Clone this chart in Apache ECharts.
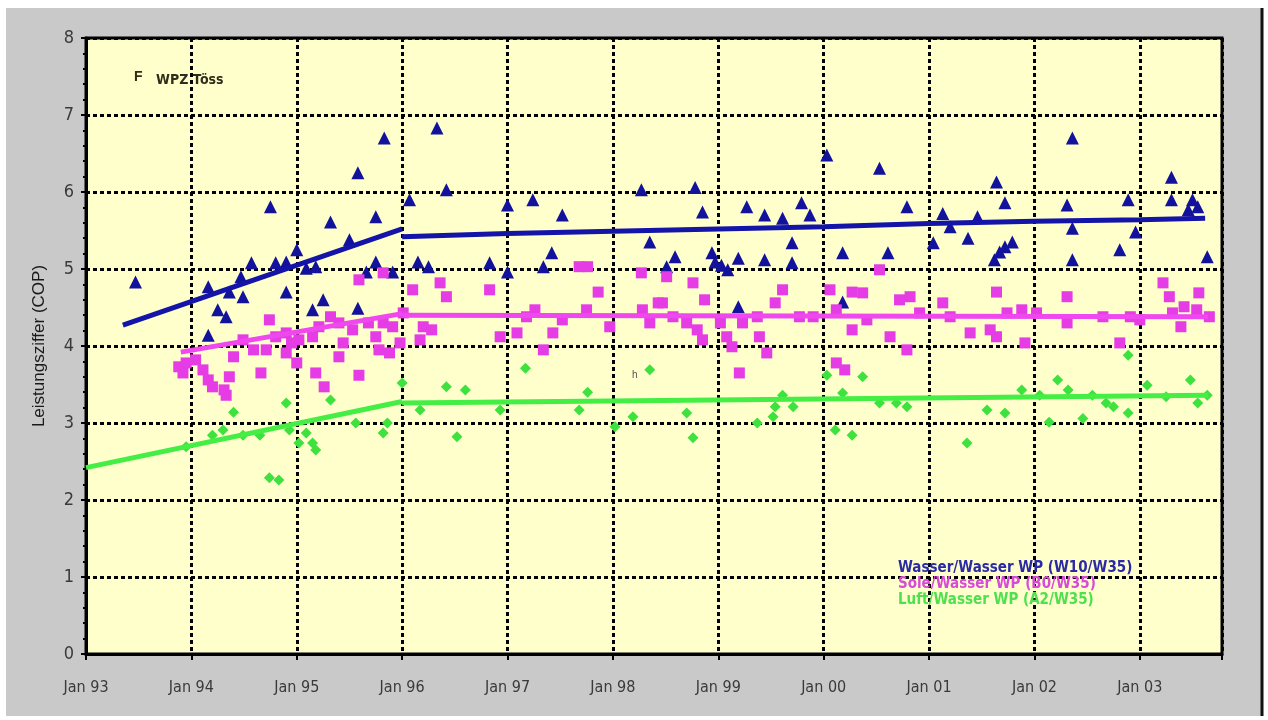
<!DOCTYPE html>
<html>
<head>
<meta charset="utf-8">
<script src="https://cdn.jsdelivr.net/npm/echarts@6/dist/echarts.min.js"></script>
<style>
  html, body { margin: 0; padding: 0; background: #ffffff; }
  #chart { width: 1268px; height: 720px; }
</style>
</head>
<body>
<div id="chart"></div>
<script>
// Monthly COP measurements, [decimal year, COP]
const wasserWasser = [
  [1993.47, 4.83], [1994.16, 4.77], [1994.16, 4.14], [1994.25, 4.47], [1994.33, 4.38],
  [1994.36, 4.70], [1994.47, 4.90], [1994.49, 4.64], [1994.57, 5.08], [1994.75, 5.81],
  [1994.80, 5.08], [1994.90, 5.09], [1994.90, 4.70], [1995.00, 5.25], [1995.09, 5.01],
  [1995.15, 4.47], [1995.18, 5.03], [1995.25, 4.60], [1995.32, 5.61], [1995.50, 5.38],
  [1995.58, 6.25], [1995.58, 4.49], [1995.66, 4.96], [1995.75, 5.68], [1995.75, 5.09],
  [1995.83, 6.70], [1995.91, 4.96], [1996.07, 5.90], [1996.15, 5.09], [1996.25, 5.03],
  [1996.33, 6.83], [1996.42, 6.03], [1996.83, 5.08], [1997.00, 5.83], [1997.00, 4.96],
  [1997.24, 5.90], [1997.34, 5.03], [1997.42, 5.21], [1997.52, 5.70], [1998.27, 6.03],
  [1998.35, 5.35], [1998.51, 5.03], [1998.59, 5.16], [1998.78, 6.06], [1998.85, 5.74],
  [1998.94, 5.21], [1998.97, 5.09], [1999.03, 5.05], [1999.09, 4.99], [1999.19, 5.14],
  [1999.19, 4.51], [1999.27, 5.81], [1999.44, 5.70], [1999.44, 5.12], [1999.61, 5.66],
  [1999.70, 5.34], [1999.70, 5.08], [1999.79, 5.86], [1999.87, 5.70], [2000.03, 6.48],
  [2000.18, 5.21], [2000.18, 4.57], [2000.53, 6.31], [2000.61, 5.21], [2000.79, 5.81],
  [2001.04, 5.34], [2001.13, 5.72], [2001.20, 5.55], [2001.37, 5.40], [2001.46, 5.68],
  [2001.62, 5.12], [2001.64, 6.13], [2001.67, 5.22], [2001.72, 5.86], [2001.72, 5.29],
  [2001.79, 5.35], [2002.31, 5.83], [2002.36, 6.70], [2002.36, 5.53], [2002.36, 5.12],
  [2002.81, 5.25], [2002.89, 5.90], [2002.96, 5.48], [2003.30, 6.19], [2003.30, 5.90],
  [2003.46, 5.77], [2003.50, 5.90], [2003.55, 5.81], [2003.64, 5.16]
];

const soleWasser = [
  [1993.88, 3.73], [1993.92, 3.65], [1993.95, 3.78], [1994.04, 3.82], [1994.11, 3.69],
  [1994.16, 3.56], [1994.20, 3.47], [1994.31, 3.43], [1994.33, 3.36], [1994.36, 3.60],
  [1994.40, 3.86], [1994.49, 4.08], [1994.59, 3.95], [1994.66, 3.65], [1994.71, 3.95],
  [1994.74, 4.34], [1994.80, 4.12], [1994.90, 4.17], [1994.90, 3.91], [1994.95, 4.04],
  [1995.00, 3.78], [1995.02, 4.08], [1995.15, 4.12], [1995.18, 3.65], [1995.21, 4.25],
  [1995.26, 3.47], [1995.32, 4.38], [1995.40, 4.30], [1995.40, 3.86], [1995.44, 4.04],
  [1995.53, 4.21], [1995.59, 4.86], [1995.59, 3.62], [1995.68, 4.30], [1995.75, 4.12],
  [1995.78, 3.95], [1995.82, 4.95], [1995.82, 4.30], [1995.88, 3.91], [1995.91, 4.25],
  [1995.98, 4.04], [1996.01, 4.43], [1996.10, 4.73], [1996.17, 4.08], [1996.20, 4.25],
  [1996.28, 4.21], [1996.36, 4.82], [1996.42, 4.64], [1996.83, 4.73], [1996.93, 4.12],
  [1997.09, 4.17], [1997.18, 4.38], [1997.26, 4.47], [1997.34, 3.95], [1997.43, 4.17],
  [1997.52, 4.34], [1997.68, 5.03], [1997.75, 4.47], [1997.76, 5.03], [1997.86, 4.70],
  [1997.97, 4.25], [1998.27, 4.95], [1998.28, 4.47], [1998.35, 4.30], [1998.43, 4.56],
  [1998.47, 4.56], [1998.51, 4.90], [1998.57, 4.38], [1998.70, 4.30], [1998.76, 4.82],
  [1998.80, 4.21], [1998.85, 4.08], [1998.87, 4.60], [1999.02, 4.30], [1999.08, 4.12],
  [1999.13, 3.99], [1999.20, 3.65], [1999.23, 4.30], [1999.37, 4.38], [1999.39, 4.12],
  [1999.46, 3.91], [1999.54, 4.56], [1999.61, 4.73], [1999.77, 4.38], [1999.90, 4.38],
  [2000.06, 4.73], [2000.12, 4.47], [2000.12, 3.78], [2000.20, 3.69], [2000.27, 4.70],
  [2000.27, 4.21], [2000.37, 4.69], [2000.41, 4.34], [2000.53, 4.99], [2000.63, 4.12],
  [2000.72, 4.60], [2000.79, 3.95], [2000.82, 4.64], [2000.91, 4.43], [2001.13, 4.56],
  [2001.20, 4.38], [2001.39, 4.17], [2001.58, 4.21], [2001.64, 4.70], [2001.64, 4.12],
  [2001.74, 4.43], [2001.88, 4.47], [2001.91, 4.04], [2002.02, 4.43], [2002.31, 4.64],
  [2002.31, 4.30], [2002.65, 4.38], [2002.81, 4.04], [2002.91, 4.38], [2003.00, 4.34],
  [2003.22, 4.82], [2003.28, 4.64], [2003.31, 4.43], [2003.39, 4.25], [2003.42, 4.51],
  [2003.54, 4.47], [2003.56, 4.69], [2003.66, 4.38]
];

const luftWasser = [
  [1993.95, 2.69], [1994.20, 2.84], [1994.30, 2.91], [1994.40, 3.14], [1994.49, 2.84],
  [1994.65, 2.84], [1994.74, 2.29], [1994.83, 2.26], [1994.90, 3.26], [1994.93, 2.91],
  [1995.02, 2.74], [1995.09, 2.87], [1995.15, 2.74], [1995.18, 2.65], [1995.32, 3.30],
  [1995.56, 3.00], [1995.82, 2.87], [1995.86, 3.00], [1996.00, 3.52], [1996.17, 3.17],
  [1996.42, 3.47], [1996.52, 2.82], [1996.60, 3.43], [1996.93, 3.17], [1997.17, 3.71],
  [1997.68, 3.17], [1997.76, 3.40], [1998.02, 2.95], [1998.19, 3.08], [1998.35, 3.69],
  [1998.70, 3.13], [1998.76, 2.81], [1999.37, 3.00], [1999.52, 3.08], [1999.54, 3.21],
  [1999.61, 3.36], [1999.71, 3.21], [2000.03, 3.62], [2000.11, 2.91], [2000.18, 3.39],
  [2000.27, 2.84], [2000.37, 3.60], [2000.53, 3.26], [2000.69, 3.26], [2000.79, 3.21],
  [2001.36, 2.74], [2001.55, 3.17], [2001.72, 3.13], [2001.88, 3.43], [2002.05, 3.36],
  [2002.14, 3.01], [2002.22, 3.56], [2002.32, 3.43], [2002.46, 3.06], [2002.55, 3.36],
  [2002.68, 3.26], [2002.75, 3.21], [2002.89, 3.13], [2002.89, 3.88], [2003.07, 3.49],
  [2003.25, 3.34], [2003.48, 3.56], [2003.55, 3.26], [2003.64, 3.36]
];

// Trend lines: start-up phase up to Jan 96, then long-term trend
const trendWasserEarly = [[1993.35, 4.27], [1996.0, 5.52]];
const trendWasserLate = [[1996.0, 5.42], [1997, 5.46], [1998, 5.49], [1999, 5.52], [2000, 5.55],
  [2001, 5.59], [2002, 5.62], [2003, 5.64], [2003.62, 5.66]];
const trendSoleEarly = [[1993.9, 3.92], [1996.0, 4.42]];
const trendSoleLate = [[1996.0, 4.40], [2003.65, 4.38]];
const trendLuftEarly = [[1993.0, 2.42], [1996.0, 3.28]];
const trendLuftLate = [[1996.0, 3.26], [2003.65, 3.36]];

const seriesNames = ['Wasser/Wasser WP (W10/W35)', 'Sole/Wasser WP (B0/W35)', 'Luft/Wasser WP (A2/W35)'];
const yearStart = 1993;
const yearEnd = 2003.78;

const BLUE = '#12129c';
const MAGENTA = '#e63ce6';
const GREEN = '#3ee23e';
const NARROW = "'DejaVu Sans Condensed', 'Liberation Sans Narrow', 'Arial Narrow', sans-serif";

const chart = echarts.init(document.getElementById('chart'));

function trend(data, color) {
  return {
    type: 'line', data: data, showSymbol: false, symbol: 'none', silent: true, z: 5,
    lineStyle: { color: color, width: 5 }
  };
}

chart.setOption({
  backgroundColor: '#ffffff',
  animation: false,
  graphic: [
    { type: 'rect', z: -10, shape: { x: 6, y: 8, width: 1256, height: 708 }, style: { fill: '#c9c9c9' } },
    { type: 'line', z: -9, shape: { x1: 1262, y1: 8, x2: 1262, y2: 716 }, style: { stroke: '#111', lineWidth: 3 } },
    { type: 'text', z: 10, left: 134, top: 70, style: { text: 'F', font: "bold 14px 'Liberation Sans', Arial, sans-serif", fill: '#2e2e1a' } },
    { type: 'text', z: 10, left: 156, top: 73, style: { text: 'WPZ Töss', font: "bold 14px 'DejaVu Sans Condensed', 'Liberation Sans', sans-serif", fill: '#2e2e1a' } },
    { type: 'text', z: 10, left: 632, top: 370, style: { text: 'h', font: "10px 'Liberation Sans', Arial, sans-serif", fill: '#555' } }
  ],
  grid: {
    left: 86, top: 38, right: 46, bottom: 66,
    show: true, backgroundColor: '#ffffcc', borderColor: '#000', borderWidth: 3
  },
  legend: {
    orient: 'vertical', left: 888, top: 556, itemGap: 1, itemWidth: 0, itemHeight: 0,
    selectedMode: false,
    textStyle: { fontFamily: NARROW, fontSize: 15, fontWeight: 'bold' },
    data: [
      { name: seriesNames[0], textStyle: { color: '#2a2aa6' } },
      { name: seriesNames[1], textStyle: { color: '#d84ad8' } },
      { name: seriesNames[2], textStyle: { color: '#4ee04e' } }
    ]
  },
  xAxis: {
    type: 'value', min: yearStart, max: yearEnd, interval: 1,
    axisLine: { lineStyle: { color: '#000', width: 3 } },
    axisTick: { show: true, length: 6, lineStyle: { color: '#000', width: 2 } },
    axisLabel: {
      margin: 26, color: '#3a3a3a', fontFamily: NARROW, fontSize: 16,
      formatter: v => Number.isInteger(v) ? 'Jan ' + String(v % 100).padStart(2, '0') : ''
    },
    splitLine: { show: true, lineStyle: { color: '#000', width: 3, type: [4, 3] } }
  },
  yAxis: {
    type: 'value', min: 0, max: 8, interval: 1,
    name: 'Leistungsziffer (COP)', nameLocation: 'middle', nameGap: 38, nameRotate: 90,
    nameTextStyle: { fontFamily: "'Liberation Sans', Arial, sans-serif", fontSize: 17, color: '#1a1a1a' },
    axisLine: { show: true, lineStyle: { color: '#000', width: 3 } },
    axisTick: { show: true, length: 5, lineStyle: { color: '#000', width: 2 } },
    minorTick: { show: true, splitNumber: 5, length: 3, lineStyle: { color: '#000', width: 2 } },
    axisLabel: { margin: 12, color: '#3a3a3a', fontFamily: NARROW, fontSize: 18 },
    splitLine: { show: true, lineStyle: { color: '#000', width: 3, type: [4, 3] } }
  },
  series: [
    { name: seriesNames[0], type: 'scatter', data: wasserWasser, symbol: 'triangle', symbolSize: 13,
      itemStyle: { color: BLUE, opacity: 1 }, z: 3 },
    { name: seriesNames[1], type: 'scatter', data: soleWasser, symbol: 'rect', symbolSize: 11,
      itemStyle: { color: MAGENTA, opacity: 1 }, z: 3 },
    { name: seriesNames[2], type: 'scatter', data: luftWasser, symbol: 'diamond', symbolSize: 11,
      itemStyle: { color: GREEN, opacity: 1 }, z: 3 },
    trend(trendWasserEarly, '#1414a8'),
    trend(trendWasserLate, '#1414a8'),
    trend(trendSoleEarly, '#ee48ee'),
    trend(trendSoleLate, '#ee48ee'),
    trend(trendLuftEarly, '#44ee44'),
    trend(trendLuftLate, '#44ee44')
  ]
});
</script>
</body>
</html>
